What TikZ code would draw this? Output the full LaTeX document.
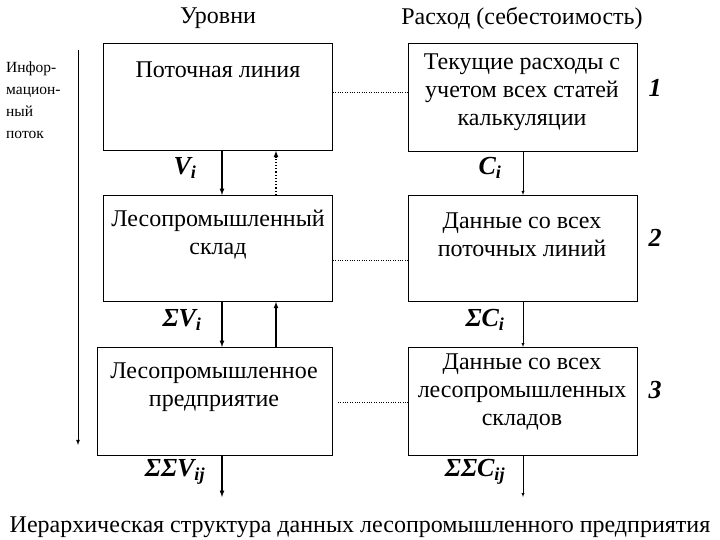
\documentclass[tikz,border=0pt]{standalone}
\usepackage{fontspec}
\setmainfont{Liberation Serif}
\begin{document}
\begin{tikzpicture}[x=1pt,y=-1pt,
  box/.style={draw,thick,minimum height=107pt,anchor=north west,inner sep=0pt},
  bt/.style={font=\fontsize{24}{28}\selectfont,align=center},
  lab/.style={font=\fontsize{26}{28}\selectfont\bfseries\itshape},
  thk/.style={very thick,-latex},
  thn/.style={thin,-latex}]
\useasboundingbox (0,0) rectangle (720,540);
\node[box,minimum width=229pt] (L1) at (103,43) {};
\node[box,minimum width=229pt,minimum height=106pt] (L2) at (103,195) {};
\node[box,minimum width=235pt,minimum height=108pt] (L3) at (97,347) {};
\node[box,minimum width=229pt,minimum height=108pt] (R1) at (408,43) {};
\node[box,minimum width=229pt,minimum height=106pt] (R2) at (408,195) {};
\node[box,minimum width=229pt,minimum height=108pt] (R3) at (408,347) {};
\node[bt] (t1) at (218,70) {Поточная линия};
\node[bt] (t2) at (218,235) {Лесопромышленный\\склад};
\node[bt] (t3) at (214,387) {Лесопромышленное\\предприятие};
\node[bt] (t4) at (522,92) {Текущие расходы с\\учетом всех статей\\калькуляции};
\node[bt] (t5) at (522,235) {Данные со всех\\поточных линий};
\node[bt] (t6) at (522,392) {Данные со всех\\лесопромышленных\\складов};
\node[bt] (h1) at (218,18) {Уровни};
\node[bt] (h2) at (522,18) {Расход (себестоимость)};
\node[bt] (ti) at (360,527) {Иерархическая структура данных лесопромышленного предприятия};
\node[font=\fontsize{15.5}{22}\selectfont,align=left,anchor=north west,inner sep=0pt] (fl) at (6,62) {Инфор-\\мацион-\\ный\\поток};
\coordinate (fa) at (78,50); \coordinate (fb) at (78,445);
\draw[thick,-latex] (fa) -- (fb);
\node[lab] (v1) at (185,168) {V\textsubscript{i}};
\node[lab] (c1) at (490,168) {C\textsubscript{i}};
\node[lab] (v2) at (182,320) {ΣV\textsubscript{i}};
\node[lab] (c2) at (485,320) {ΣC\textsubscript{i}};
\node[lab] (v3) at (175,472) {ΣΣV\textsubscript{ij}};
\node[lab] (c3) at (475,472) {ΣΣC\textsubscript{ij}};
\node[lab] (n1) at (655,88) {1};
\node[lab] (n2) at (655,238) {2};
\node[lab] (n3) at (655,390) {3};
\draw[thk] (L1.south -| 222,0) -- (L2.north -| 222,0);
\draw[very thick,dotted,-latex] (L2.north -| 276,0) -- (L1.south -| 276,0);
\draw[thk] (L2.south -| 222,0) -- (L3.north -| 222,0);
\draw[thk] (L3.north -| 276,0) -- (L2.south -| 276,0);
\coordinate (le) at (222,497); \coordinate (re) at (523,497);
\draw[thk] (L3.south -| 222,0) -- (le);
\draw[thn] (R1.south -| 523,0) -- (R2.north -| 523,0);
\draw[thn] (R2.south -| 523,0) -- (R3.north -| 523,0);
\draw[thn] (R3.south -| 523,0) -- (re);
\draw[dotted] (L1.east |- 0,92) -- (R1.west |- 0,92);
\draw[dotted] (L2.east |- 0,260) -- (R2.west |- 0,260);
\draw[dotted] ([xshift=5pt]L3.east |- 0,402) -- (R3.west |- 0,402);
\end{tikzpicture}
\end{document}
